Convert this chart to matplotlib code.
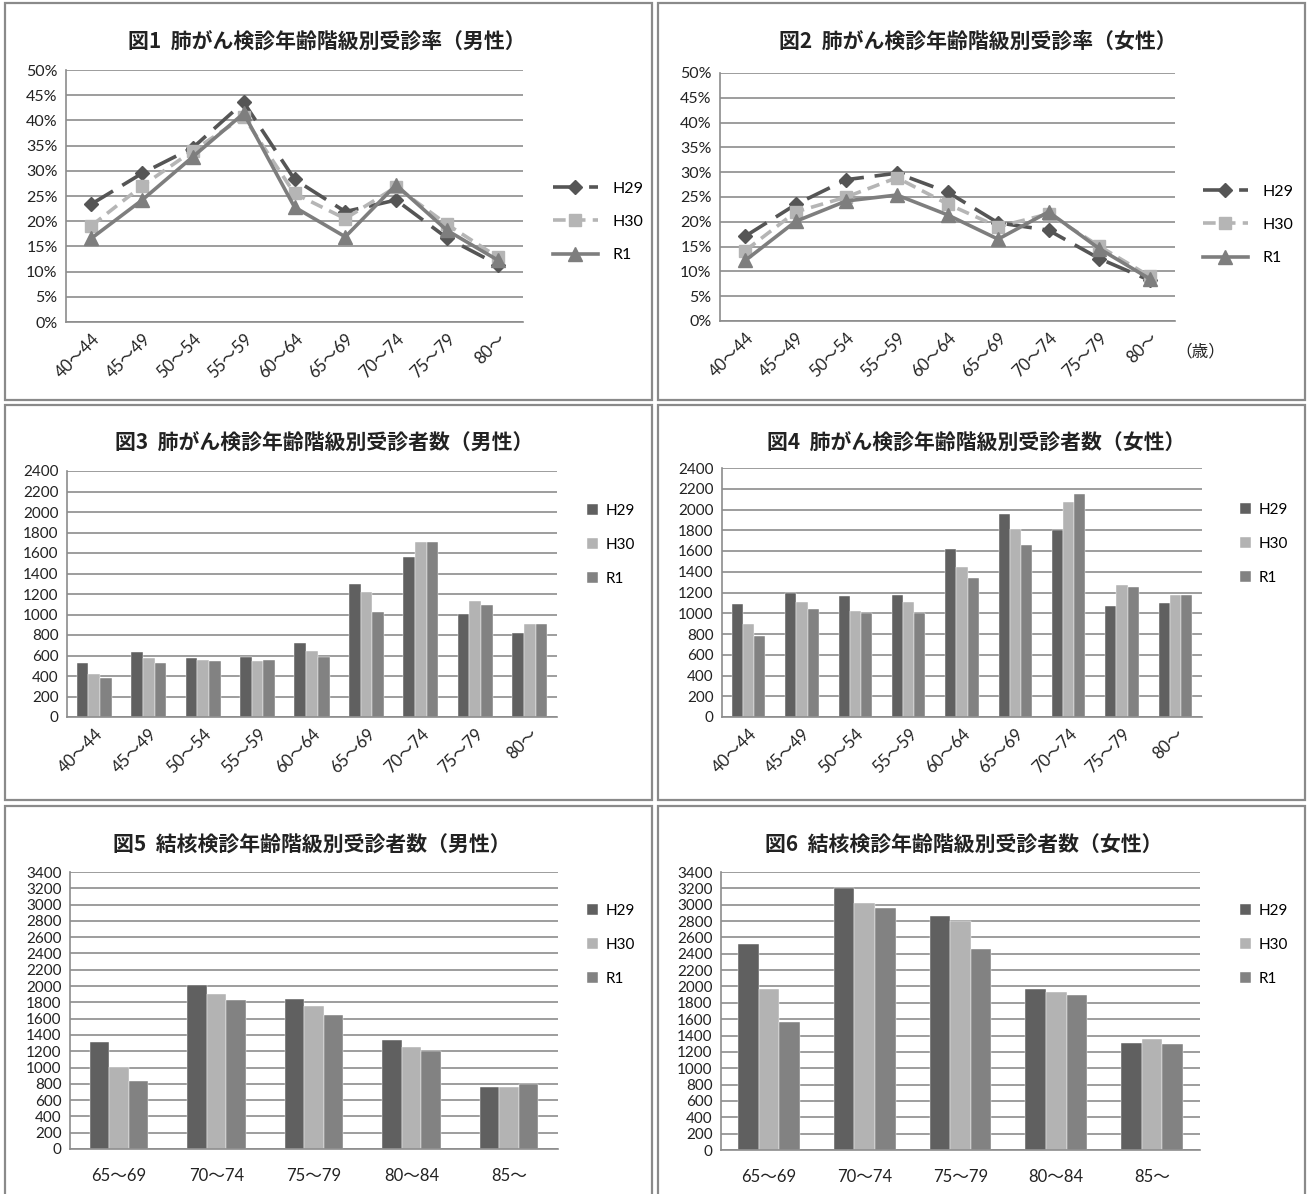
import matplotlib
matplotlib.use("Agg")
import matplotlib.pyplot as plt
from matplotlib.patches import Rectangle
from matplotlib.ticker import FuncFormatter

W, H = 1307, 1194
JP = ["Noto Sans CJK JP"]
NUM = ["Lato", "Noto Sans CJK JP"]

years = ["H29", "H30", "R1"]
ages_lung = ["40～44", "45～49", "50～54", "55～59", "60～64",
             "65～69", "70～74", "75～79", "80～"]
ages_tb = ["65～69", "70～74", "75～79", "80～84", "85～"]

# 肺がん検診 受診率 (%)
rate_male = {
    "H29": [23.4, 29.5, 34.6, 43.6, 28.3, 21.9, 24.2, 16.7, 11.4],
    "H30": [19.1, 27.0, 34.0, 40.7, 25.5, 20.5, 26.8, 19.4, 12.9],
    "R1":  [16.6, 24.2, 32.8, 41.4, 22.8, 16.9, 27.2, 18.2, 12.3],
}
rate_female = {
    "H29": [17.1, 23.5, 28.5, 29.8, 26.0, 19.8, 18.3, 12.6, 8.2],
    "H30": [14.2, 22.0, 25.0, 28.9, 23.6, 19.0, 21.6, 15.1, 9.0],
    "R1":  [12.2, 20.1, 24.2, 25.4, 21.4, 16.5, 22.0, 14.6, 8.5],
}

# 肺がん検診 受診者数
lung_male = {
    "H29": [527, 634, 572, 582, 719, 1301, 1558, 1002, 823],
    "H30": [423, 572, 559, 546, 641, 1223, 1711, 1128, 907],
    "R1":  [380, 524, 550, 556, 582, 1028, 1711, 1096, 907],
}
lung_female = {
    "H29": [1090, 1199, 1164, 1174, 1620, 1961, 1804, 1074, 1096],
    "H30": [897, 1112, 1022, 1112, 1444, 1814, 2077, 1273, 1174],
    "R1":  [778, 1038, 1000, 1000, 1344, 1656, 2154, 1251, 1174],
}

# 結核検診 受診者数
tb_male = {
    "H29": [1317, 2018, 1845, 1337, 767],
    "H30": [1001, 1899, 1751, 1251, 767],
    "R1":  [833, 1825, 1640, 1198, 800],
}
tb_female = {
    "H29": [2514, 3208, 2857, 1967, 1314],
    "H30": [1971, 3020, 2800, 1927, 1355],
    "R1":  [1563, 2955, 2461, 1898, 1294],
}

bar_colors = {"H29": "#606060", "H30": "#b3b3b3", "R1": "#828282"}
line_style = {
    "H29": dict(color="#555555", marker="D", ms=7.5, dashes=(7, 3)),
    "H30": dict(color="#b5b5b5", marker="s", ms=8.5, dashes=(3.5, 2)),
    "R1":  dict(color="#7e7e7e", marker="^", ms=9.5, ls="-"),
}
GRID = "#8c8c8c"

fig = plt.figure(figsize=(W / 100, H / 100), dpi=100)
fig.patch.set_facecolor("white")


def fx(x):
    return x / W


def fy(y):
    return 1 - y / H


def add_panel(x0, y0, x1, y1):
    fig.patches.append(Rectangle((fx(x0), fy(y1)), (x1 - x0) / W,
                                 (y1 - y0) / H, transform=fig.transFigure,
                                 fill=False, ec="#8a8a8a", lw=1.6))


def make_axes(x0, y0, x1, y1):
    ax = fig.add_axes([fx(x0), fy(y1), (x1 - x0) / W, (y1 - y0) / H])
    for s in ("top", "right"):
        ax.spines[s].set_visible(False)
    ax.spines["left"].set_color(GRID)
    ax.spines["bottom"].set_color(GRID)
    ax.spines["left"].set_linewidth(1.2)
    ax.spines["bottom"].set_linewidth(1.2)
    ax.yaxis.grid(True, color=GRID, lw=1.2)
    ax.set_axisbelow(True)
    ax.tick_params(length=0, pad=6)
    return ax


def title(x, y, text):
    fig.text(fx(x), fy(y), text, ha="center", va="center", fontsize=15,
             fontweight="bold", family=JP, color="#222222")


def style_ticks(ax, labels, rotate, size=11):
    ax.set_xticks(range(len(labels)))
    if rotate:
        ax.set_xticklabels(labels, rotation=45, ha="right",
                           rotation_mode="anchor", family=NUM, fontsize=12,
                           color="#222222")
    else:
        ax.set_xticklabels(labels, family=NUM, fontsize=size + 1,
                           color="#222222")
    for t in ax.get_yticklabels():
        t.set_family(NUM)
        t.set_fontsize(size)
        t.set_color("#222222")


def line_chart(box, data, legend_xy):
    ax = make_axes(*box)
    x = range(len(ages_lung))
    for yr in years:
        st = dict(line_style[yr])
        dashes = st.pop("dashes", None)
        ln, = ax.plot(x, [v / 100 for v in data[yr]], lw=2.6, label=yr,
                      mec=st["color"], **st)
        if dashes:
            ln.set_dashes(dashes)
    ax.set_xlim(-0.5, len(ages_lung) - 0.5)
    ax.set_ylim(0, 0.5)
    ax.set_yticks([i * 0.05 for i in range(11)])
    ax.yaxis.set_major_formatter(FuncFormatter(lambda v, p: f"{v * 100:.0f}%"))
    style_ticks(ax, ages_lung, True, size=11.5)
    ax.legend(loc="center left", bbox_to_anchor=(fx(legend_xy[0]), fy(legend_xy[1])),
              bbox_transform=fig.transFigure, frameon=False, borderpad=0,
              borderaxespad=0, handlelength=2.8, handletextpad=0.9,
              labelspacing=1.2, prop={"family": NUM, "size": 11.5})
    return ax


def bar_chart(box, data, cats, ymax, width, legend_xy, rotate):
    ax = make_axes(*box)
    for i, yr in enumerate(years):
        xs = [k + (i - 1) * width for k in range(len(cats))]
        ax.bar(xs, data[yr], width=width, color=bar_colors[yr], label=yr,
               edgecolor="white", linewidth=0.3)
    ax.set_xlim(-0.5, len(cats) - 0.5)
    ax.set_ylim(0, ymax)
    ax.set_yticks(range(0, ymax + 1, 200))
    style_ticks(ax, cats, rotate, size=11)
    if not rotate:
        ax.tick_params(axis="x", pad=14)
    ax.legend(loc="center left", bbox_to_anchor=(fx(legend_xy[0]), fy(legend_xy[1])),
              bbox_transform=fig.transFigure, frameon=False, borderpad=0,
              borderaxespad=0, handlelength=0.7, handleheight=0.7,
              handletextpad=0.5, labelspacing=1.3,
              prop={"family": NUM, "size": 11})
    return ax


# panel frames
add_panel(5, 3, 652, 400)
add_panel(658, 3, 1305, 400)
add_panel(5, 405, 652, 800)
add_panel(658, 405, 1305, 800)
add_panel(5, 806, 652, 1210)
add_panel(658, 806, 1305, 1210)

# 図1, 図2
title(327, 41, "図1  肺がん検診年齢階級別受診率（男性）")
line_chart((66, 70, 523, 322), rate_male, (553, 222))
title(978, 41, "図2  肺がん検診年齢階級別受診率（女性）")
line_chart((720, 73, 1175, 321), rate_female, (1203, 225))
fig.text(fx(1200), fy(352), "（歳）", ha="center", va="center",
         fontsize=12, family=JP, color="#222222")

# 図3, 図4
title(324, 443, "図3  肺がん検診年齢階級別受診者数（男性）")
bar_chart((67, 471, 557, 717), lung_male, ages_lung, 2400, 0.215,
          (587, 545), True)
title(976, 443, "図4  肺がん検診年齢階級別受診者数（女性）")
bar_chart((722, 468, 1202, 717), lung_female, ages_lung, 2400, 0.21,
          (1240, 544), True)

# 図5, 図6
title(312, 845, "図5  結核検診年齢階級別受診者数（男性）")
bar_chart((70, 872, 558, 1149), tb_male, ages_tb, 3400, 0.2,
          (587, 945), False)
title(964, 845, "図6  結核検診年齢階級別受診者数（女性）")
bar_chart((721, 872, 1200, 1150), tb_female, ages_tb, 3400, 0.215,
          (1240, 945), False)

fig.savefig("out.png", dpi=100, facecolor="white")
